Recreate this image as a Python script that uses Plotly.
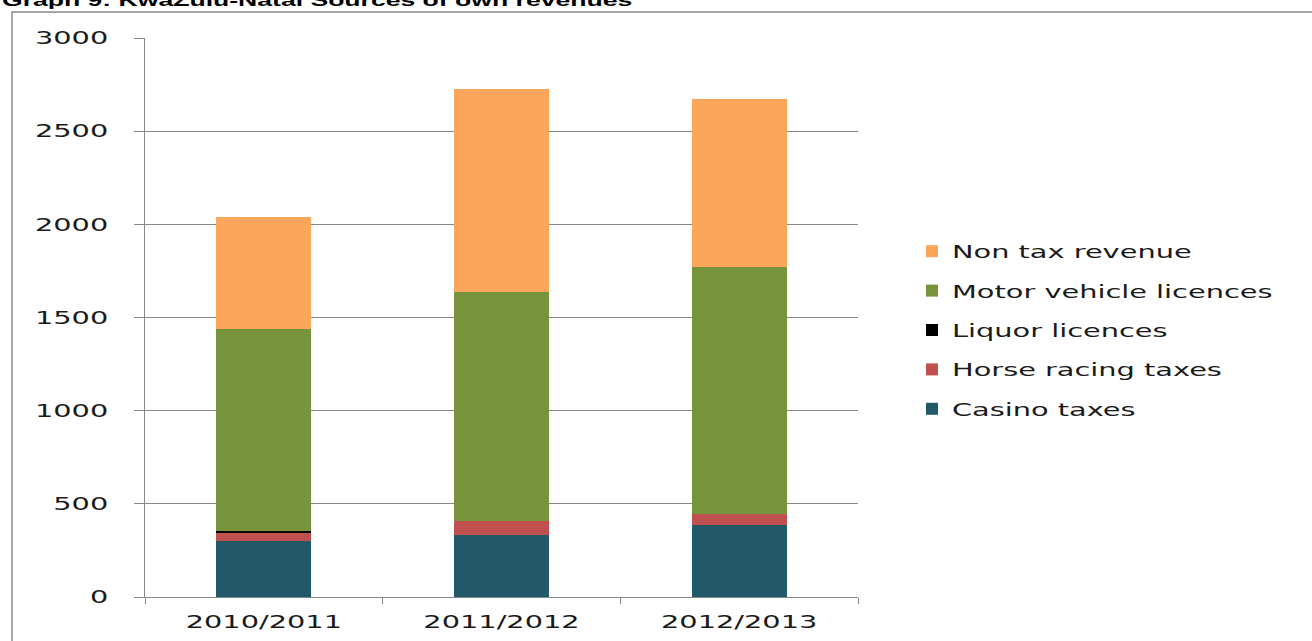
import plotly.graph_objects as go

# KwaZulu-Natal own revenue sources (R million)
years = ["2010/2011", "2011/2012", "2012/2013"]
casino_taxes = [302, 333, 385]
horse_racing_taxes = [45, 75, 60]
liquor_licences = [9, 0, 0]
motor_vehicle_licences = [1081, 1229, 1326]
non_tax_revenue = [602, 1089, 902]

y_ticks = [0, 500, 1000, 1500, 2000, 2500, 3000]

# stacked bottom to top; legend lists them top to bottom
series = [
    ("Casino taxes", casino_taxes, "#215968"),
    ("Horse racing taxes", horse_racing_taxes, "#C0504D"),
    ("Liquor licences", liquor_licences, "#000000"),
    ("Motor vehicle licences", motor_vehicle_licences, "#77933C"),
    ("Non tax revenue", non_tax_revenue, "#FBA65B"),
]

W, H = 1312, 641
L, R, T, B = 145, 454, 38, 44
plot_w = W - L - R
plot_h = H - T - B

FONT = "DejaVu Sans"
TEXT = "#1a1a1a"
GRID = "#878787"

fig = go.Figure()
for i, (name, vals, color) in enumerate(series):
    fig.add_bar(
        x=years, y=vals, name=name, legendgroup=name,
        legendrank=len(series) - i,
        marker=dict(color=color, line=dict(width=0)),
    )

def px_x(p):
    return (p - L) / plot_w

def px_y(p):
    return (H - B - p) / plot_h

fig.update_layout(
    width=W, height=H,
    margin=dict(l=L, r=R, t=T, b=B, autoexpand=False),
    paper_bgcolor="white", plot_bgcolor="white",
    barmode="stack", bargap=0.6,
    font=dict(family=FONT, size=18, color=TEXT),
    showlegend=True,
    legend=dict(
        x=px_x(912), xanchor="left",
        y=px_y(330), yanchor="middle",
        traceorder="grouped", tracegroupgap=13,
        font=dict(family=FONT, size=18, color=TEXT),
        bgcolor="rgba(0,0,0,0)",
    ),
    xaxis=dict(
        automargin=False,
        showline=True, linecolor=GRID, linewidth=1.3,
        ticks="outside", tickson="boundaries", ticklen=6, tickcolor=GRID, tickwidth=1.3,
        tickfont=dict(family=FONT, size=18, color=TEXT),
        ticklabelstandoff=8,
        showgrid=False, zeroline=False,
    ),
    yaxis=dict(
        automargin=False,
        range=[0, 3000], tickvals=y_ticks,
        showgrid=True, gridcolor=GRID, gridwidth=1.3,
        showline=True, linecolor=GRID, linewidth=1.3,
        ticks="outside", ticklen=10, tickcolor=GRID, tickwidth=1.3,
        tickfont=dict(family=FONT, size=18, color=TEXT),
        ticklabelstandoff=22,
        zeroline=False,
    ),
    annotations=[dict(
        text="Graph 9: KwaZulu-Natal Sources of own revenues",
        xref="paper", yref="paper",
        x=px_x(0), xanchor="left",
        y=px_y(11), yanchor="bottom",
        align="left", showarrow=False,
        font=dict(family="Liberation Sans", size=16, color="#000000", weight="bold"),
    )],
    shapes=[dict(
        type="rect", xref="paper", yref="paper",
        x0=px_x(12), x1=px_x(1330), y0=px_y(660), y1=px_y(12),
        line=dict(color="#a6a6a6", width=2), fillcolor="rgba(0,0,0,0)", layer="below",
    )],
)

# Widen the glyphs horizontally (Excel-style wide lettering)
post = """
var gd = document.getElementById('{plot_id}');
function widen(sel, k){
  gd.querySelectorAll(sel).forEach(function(t){
    if (t.getAttribute('data-wide')) return;
    var w = t.getComputedTextLength();
    if (!w) return;
    t.setAttribute('textLength', (w * k).toFixed(1));
    t.setAttribute('lengthAdjust', 'spacingAndGlyphs');
    t.setAttribute('data-wide', '1');
  });
}
function run(){
  widen('.xtick text', 1.6);
  widen('.ytick text', 1.6);
  widen('.legendtext', 1.6);
  widen('.annotation-text', 1.66);
  gd.querySelectorAll('.legend .scrollbox').forEach(function(g){ g.removeAttribute('clip-path'); });
  gd.querySelectorAll('.annotation').forEach(function(g){ g.querySelectorAll('[clip-path]').forEach(function(c){ c.removeAttribute('clip-path'); }); });
}
run();
gd.on('plotly_afterplot', run);
"""

fig.write_html("out.html", post_script=post)
